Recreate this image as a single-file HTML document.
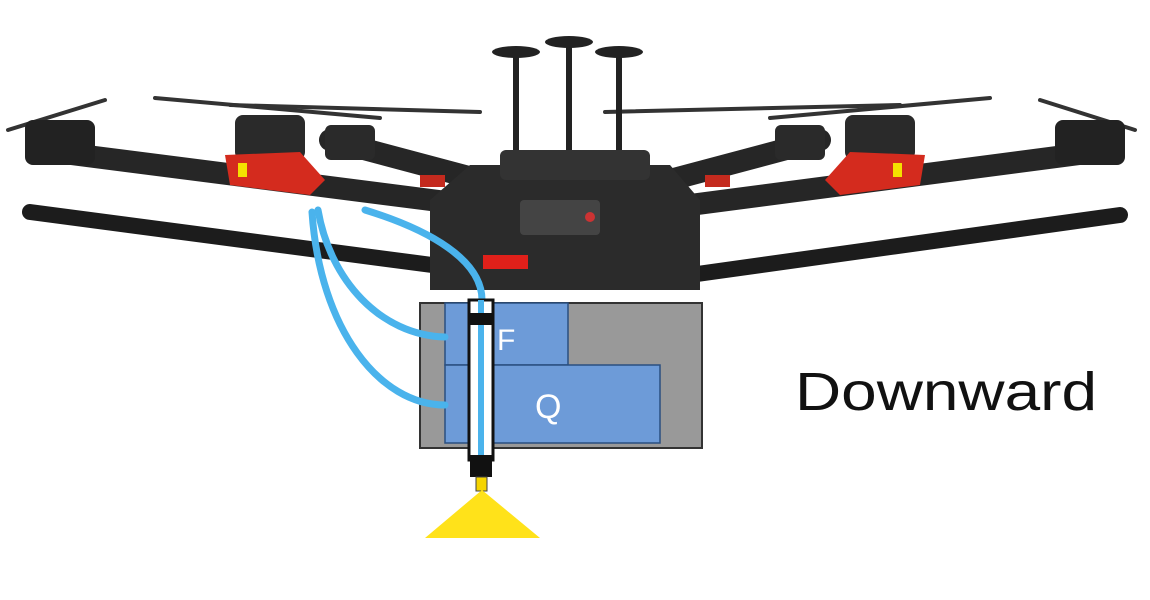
<!DOCTYPE html>
<html><head><meta charset="utf-8"><style>
html,body{margin:0;padding:0;background:#fff;width:1150px;height:600px;overflow:hidden}
</style></head><body>
<svg width="1150" height="600" viewBox="0 0 1150 600">
<g stroke="#333" stroke-width="4" stroke-linecap="round">
<line x1="8" y1="130" x2="105" y2="100"/><line x1="155" y1="98" x2="380" y2="118"/>
<line x1="230" y1="105" x2="480" y2="112"/><line x1="1040" y1="100" x2="1135" y2="130"/>
<line x1="770" y1="118" x2="990" y2="98"/><line x1="605" y1="112" x2="900" y2="105"/>
</g>
<g stroke="#1c1c1c" stroke-width="16" stroke-linecap="round">
<line x1="30" y1="212" x2="470" y2="270"/><line x1="1120" y1="215" x2="690" y2="275"/>
</g>
<g stroke="#262626" stroke-width="22" stroke-linecap="round">
<line x1="40" y1="150" x2="470" y2="205"/><line x1="1110" y1="150" x2="690" y2="205"/>
<line x1="330" y1="140" x2="480" y2="180"/><line x1="820" y1="140" x2="670" y2="180"/>
</g>
<g>
<rect x="25" y="120" width="70" height="45" rx="8" fill="#222"/>
<rect x="1055" y="120" width="70" height="45" rx="8" fill="#222"/>
<rect x="235" y="115" width="70" height="45" rx="8" fill="#2a2a2a"/>
<rect x="845" y="115" width="70" height="45" rx="8" fill="#2a2a2a"/>
<rect x="325" y="125" width="50" height="35" rx="6" fill="#2a2a2a"/>
<rect x="775" y="125" width="50" height="35" rx="6" fill="#2a2a2a"/>
<path d="M225 155 L300 152 L325 180 L310 195 L230 185 Z" fill="#d42b1e"/>
<path d="M925 155 L850 152 L825 180 L840 195 L920 185 Z" fill="#d42b1e"/>
<rect x="238" y="163" width="9" height="14" fill="#f4e000"/>
<rect x="893" y="163" width="9" height="14" fill="#f4e000"/>
</g>
<g fill="#222">
<rect x="513" y="55" width="6" height="130"/><rect x="566" y="45" width="6" height="140"/><rect x="616" y="55" width="6" height="130"/>
<ellipse cx="516" cy="52" rx="24" ry="6"/><ellipse cx="569" cy="42" rx="24" ry="6"/><ellipse cx="619" cy="52" rx="24" ry="6"/>
</g>
<g>
<path d="M470 165 L670 165 L700 200 L700 290 L430 290 L430 200 Z" fill="#2b2b2b"/>
<rect x="500" y="150" width="150" height="30" rx="6" fill="#333"/>
<rect x="520" y="200" width="80" height="35" rx="4" fill="#444"/>
<rect x="483" y="255" width="45" height="14" fill="#e0201a"/>
<rect x="420" y="175" width="25" height="12" fill="#c42a1e"/><rect x="705" y="175" width="25" height="12" fill="#c42a1e"/>
<circle cx="590" cy="217" r="5" fill="#c33"/>
</g>
<g>
<rect x="420" y="303" width="282" height="145" fill="#999" stroke="#333" stroke-width="2"/>
<rect x="445" y="303" width="123" height="62" fill="#6d9bd8" stroke="#2a4f80" stroke-width="1.5"/>
<rect x="445" y="365" width="215" height="78" fill="#6d9bd8" stroke="#2a4f80" stroke-width="1.5"/>
<text x="497" y="350" font-family="Liberation Sans, sans-serif" font-size="30" fill="#fff">F</text>
<text x="535" y="418" font-family="Liberation Sans, sans-serif" font-size="34" fill="#fff">Q</text>
</g>
<g fill="none" stroke="#4ab3ec" stroke-width="7" stroke-linecap="round">
<path d="M318 210 C330 280 380 335 445 337"/>
<path d="M312 212 C320 330 380 405 445 405"/>
<path d="M365 210 C430 230 482 260 482 300"/>
</g>
<g>
<rect x="469" y="300" width="24" height="160" fill="#fff" stroke="#111" stroke-width="3"/>
<line x1="481" y1="300" x2="481" y2="460" stroke="#4ab3ec" stroke-width="6"/>
<rect x="468" y="313" width="26" height="12" fill="#111"/>
<rect x="470" y="455" width="22" height="22" fill="#111"/>
<rect x="476" y="477" width="11" height="14" fill="#f5d400" stroke="#444" stroke-width="1"/>
<polygon points="482,490 425,538 540,538" fill="#ffe21a"/>
</g>
<text x="795" y="410" font-family="Liberation Sans, sans-serif" font-size="54" textLength="302" lengthAdjust="spacingAndGlyphs" fill="#111">Downward</text>
</svg>
</body></html>
